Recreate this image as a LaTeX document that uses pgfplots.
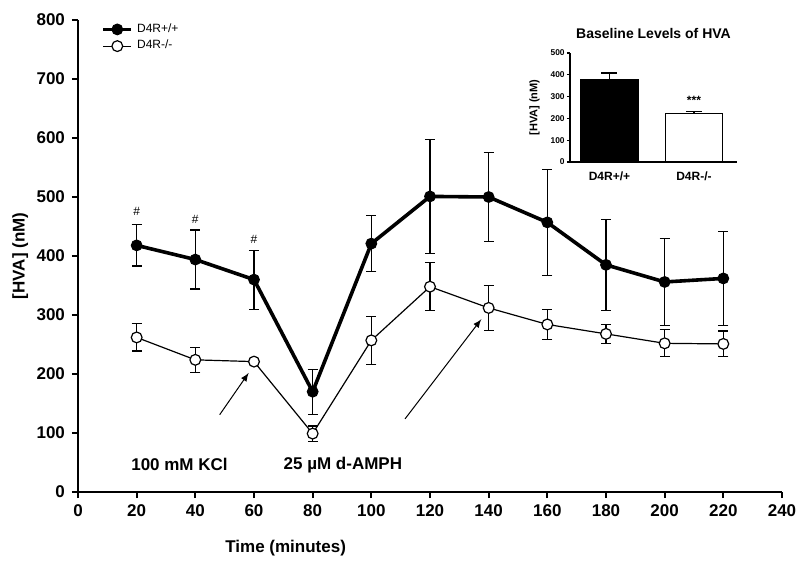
\documentclass[border=0pt]{standalone}
\usepackage{fontspec}
\setmainfont{Liberation Sans}
\usepackage{pgfplots}
\pgfplotsset{compat=1.18}
\begin{document}
\begin{tikzpicture}
\useasboundingbox (-39pt,-36pt) rectangle (361pt,246pt);
\begin{axis}[
  at={(0pt,0pt)}, anchor=south west, scale only axis,
  width=352pt, height=236pt,
  xmin=0, xmax=240, ymin=0, ymax=800,
  axis lines*=left, axis line style={line width=1.1pt},
  xtick={0,20,...,240}, ytick={0,100,...,800},
  tick align=outside, major tick length=3pt,
  tick style={line width=1pt, black},
  /pgf/number format/assume math mode=true,
  tick label style={font=\bfseries\fontsize{8.5}{10}\selectfont},
  xlabel={Time (minutes)}, ylabel={[HVA] (nM)},
  label style={font=\bfseries\fontsize{8.5}{10}\selectfont},
  xlabel style={at={(axis description cs:0.295,-0.119)}, anchor=center},
  ylabel style={at={(axis description cs:-0.082,0.5)}, anchor=center},
  clip=false,
  legend style={draw=none, fill=none, at={(0.03,1.006)}, anchor=north west,
    font=\fontsize{6}{6.5}\selectfont, row sep=-1.5pt, inner sep=1pt},
  legend cell align=left,
  legend image code/.code={\draw[#1] (0pt,0pt) -- (14pt,0pt); \draw[#1, only marks] plot coordinates {(7pt,0pt)};},
]
\addplot[black, line width=1.8pt, mark=*, mark size=2.7pt, mark options={solid, fill=black, line width=0.5pt},
  error bars/.cd, y dir=both, y explicit,
  error bar style={line width=0.6pt},
  error mark options={rotate=90, mark size=2.5pt, line width=0.6pt}]
  coordinates {
  (20,418) +- (0,35)
  (40,394) +- (0,50)
  (60,360) +- (0,50)
  (80,170) +- (0,38)
  (100,421) +- (0,47)
  (120,501) +- (0,97)
  (140,500) +- (0,76)
  (160,457) +- (0,90)
  (180,385) +- (0,77)
  (200,356) +- (0,74)
  (220,362) +- (0,80)
  };
\addlegendentry{D4R+/+}
\addplot[black, line width=0.6pt, mark=*, mark size=2.7pt, mark options={solid, fill=white, line width=0.6pt},
  error bars/.cd, y dir=both, y explicit,
  error bar style={line width=0.6pt},
  error mark options={rotate=90, mark size=2.5pt, line width=0.6pt}]
  coordinates {
  (20,262) +- (0,23)
  (40,224) +- (0,21)
  (60,221) +- (0,5)
  (80,99) +- (0,13)
  (100,257) +- (0,41)
  (120,348) +- (0,41)
  (140,312) +- (0,38)
  (160,284) +- (0,26)
  (180,268) +- (0,16)
  (200,252) +- (0,23)
  (220,251) +- (0,22)
  };
\addlegendentry{D4R-/-}
\node[font=\fontsize{6}{7}\selectfont] at (axis cs:20,475) {\#};
\node[font=\fontsize{6}{7}\selectfont] at (axis cs:40,462) {\#};
\node[font=\fontsize{6}{7}\selectfont] at (axis cs:60,428) {\#};
\node[font=\bfseries\fontsize{8.5}{10}\selectfont] at (axis cs:34.6,46) {100 mM KCl};
\node[font=\bfseries\fontsize{8.5}{10}\selectfont] at (axis cs:90.3,46) {25 µM d-AMPH};
\draw[-latex, line width=0.5pt] (axis cs:48.3,131) -- (axis cs:58.2,202);
\draw[-latex, line width=0.5pt] (axis cs:111.5,124) -- (axis cs:137.5,293);
\end{axis}
\begin{axis}[
  at={(246pt,165pt)}, anchor=south west, scale only axis,
  width=83.5pt, height=54.5pt,
  xmin=-0.467, xmax=1.51, ymin=0, ymax=500,
  axis lines*=left, axis line style={line width=0.8pt},
  xtick={0,1}, xticklabels={D4R+/+,D4R-/-}, ytick={0,100,...,500},
  tick align=outside, major tick length=1.5pt,
  tick style={line width=0.6pt, black},
  x tick style={draw=none},
  /pgf/number format/assume math mode=true,
  xticklabel style={font=\bfseries\fontsize{6}{7}\selectfont},
  yticklabel style={font=\bfseries\fontsize{4.2}{5}\selectfont, inner sep=1pt},
  ylabel={[HVA] (nM)},
  ylabel style={font=\bfseries\fontsize{5.5}{6}\selectfont, at={(axis description cs:-0.213,0.5)}, anchor=center},
  title={Baseline Levels of HVA},
  title style={font=\bfseries\fontsize{7}{8}\selectfont, at={(axis description cs:0.5,1.065)}, anchor=center},
  clip=false,
]
\addplot[ybar, bar width=28.5pt, bar shift=0pt, fill=black, draw=black, line width=0.8pt,
  error bars/.cd, y dir=plus, y explicit,
  error bar style={line width=0.6pt},
  error mark options={rotate=90, mark size=4pt, line width=0.6pt}]
  coordinates {(0,378) +- (0,30)};
\addplot[ybar, bar width=28.5pt, bar shift=0pt, fill=white, draw=black, line width=0.8pt,
  error bars/.cd, y dir=plus, y explicit,
  error bar style={line width=0.6pt},
  error mark options={rotate=90, mark size=4pt, line width=0.6pt}]
  coordinates {(1,222) +- (0,10)};
\node[font=\bfseries\fontsize{6}{6}\selectfont] at (axis cs:1,285) {***};
\end{axis}
\end{tikzpicture}
\end{document}
